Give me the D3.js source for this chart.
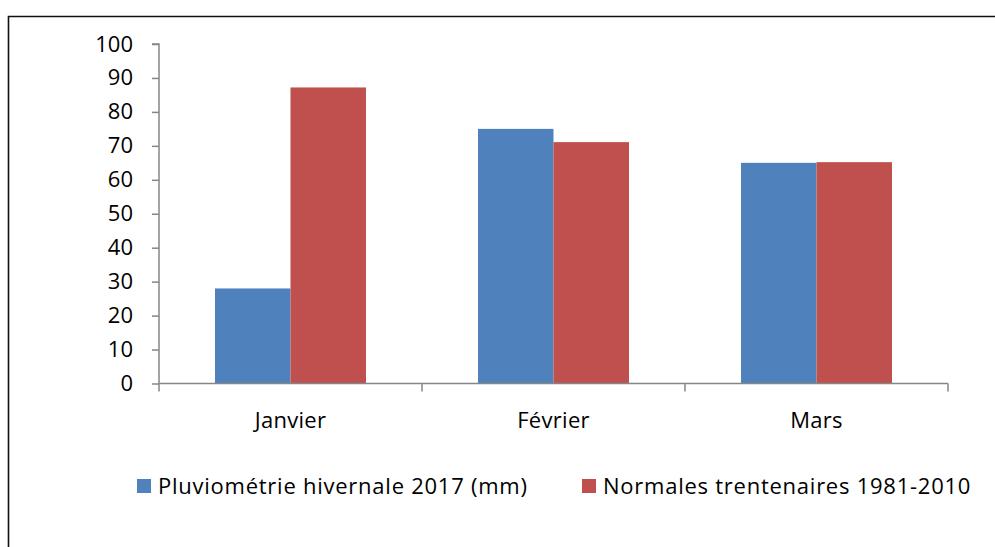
<!DOCTYPE html>
<html>
<head>
<meta charset="utf-8">
<script src="https://cdn.jsdelivr.net/npm/d3@7"></script>
<style>
  html, body { margin: 0; padding: 0; background: #fff; }
  svg { display: block; }
  text { font-family: "Open Sans", Lato, sans-serif; fill: #000; }
</style>
</head>
<body>
<svg id="chart" width="995" height="547"></svg>
<script>
const categories = ["Janvier", "Février", "Mars"];
const seriesNames = ["Pluviométrie hivernale 2017 (mm)", "Normales trentenaires 1981-2010"];
const pluvio2017 = [28, 75, 65];
const normales = [87.2, 71.1, 65.2];
const yTicks = [0, 10, 20, 30, 40, 50, 60, 70, 80, 90, 100];
const colors = ["#4F81BD", "#C0504D"];

const seriesValues = [pluvio2017, normales];
const data = categories.map((c, i) => ({
  cat: c,
  values: seriesNames.map((s, j) => ({ series: s, idx: j, value: seriesValues[j][i] }))
}));

const svg = d3.select("#chart");
const axisColor = "#868686";
const fontFam = "'Open Sans', Lato, sans-serif";

// Outer frame (top and left edges visible)
svg.append("path")
  .attr("d", "M8.5,547 L8.5,16.5 L995,16.5")
  .attr("fill", "none")
  .attr("stroke", "#111")
  .attr("stroke-width", 1.6);

const x0 = d3.scaleBand().domain(categories).range([159, 948]).padding(0);
const x1 = d3.scaleBand().domain(seriesNames).range([0, x0.bandwidth()]).paddingInner(0).paddingOuter(0.742);
const y = d3.scaleLinear().domain([0, 100]).range([383.5, 44]);

// Bars
const groups = svg.append("g").selectAll("g").data(data).join("g")
  .attr("transform", d => `translate(${x0(d.cat)},0)`);
groups.selectAll("rect").data(d => d.values).join("rect")
  .attr("x", d => x1(d.series))
  .attr("y", d => y(d.value))
  .attr("width", x1.bandwidth())
  .attr("height", d => y(0) - y(d.value))
  .attr("fill", d => colors[d.idx]);

// Y axis
const yAxis = d3.axisLeft(y).tickValues(yTicks).tickSize(7).tickPadding(19).tickFormat(d3.format("d"));
const gy = svg.append("g").attr("transform", "translate(159,0)").call(yAxis);
gy.select(".domain").attr("stroke", axisColor).attr("stroke-width", 1.5).attr("d", `M-7,${y(100)}H0V${y(0)}`);
gy.selectAll(".tick line").attr("stroke", axisColor).attr("stroke-width", 1.5);
gy.selectAll(".tick text").attr("font-size", 22).attr("font-family", fontFam).attr("fill", "#000");

// X axis
const xTickPos = categories.map(c => x0(c)).concat([x0.range()[1]]);
const gx = svg.append("g").attr("transform", `translate(0,${y(0)})`);
gx.append("line")
  .attr("x1", x0.range()[0]).attr("x2", x0.range()[1])
  .attr("y1", 0).attr("y2", 0)
  .attr("stroke", axisColor).attr("stroke-width", 1.5);
gx.selectAll("line.tk").data(xTickPos).join("line")
  .attr("class", "tk")
  .attr("x1", d => d).attr("x2", d => d)
  .attr("y1", 0).attr("y2", 8)
  .attr("stroke", axisColor).attr("stroke-width", 1.5);
gx.selectAll("text").data(categories).join("text")
  .attr("x", d => x0(d) + x0.bandwidth() / 2)
  .attr("y", 44.5)
  .attr("text-anchor", "middle")
  .attr("font-size", 22)
  .attr("letter-spacing", 0.3)
  .text(d => d);

// Legend
const legendItems = [
  { name: seriesNames[0], color: colors[0], x: 137 },
  { name: seriesNames[1], color: colors[1], x: 582 }
];
const lg = svg.append("g").selectAll("g").data(legendItems).join("g")
  .attr("transform", d => `translate(${d.x},479)`);
lg.append("rect").attr("width", 14).attr("height", 14).attr("fill", d => d.color);
lg.append("text").attr("x", 21).attr("y", 14.5).attr("font-size", 22)
  .attr("letter-spacing", 0.75).text(d => d.name);
</script>
</body>
</html>
